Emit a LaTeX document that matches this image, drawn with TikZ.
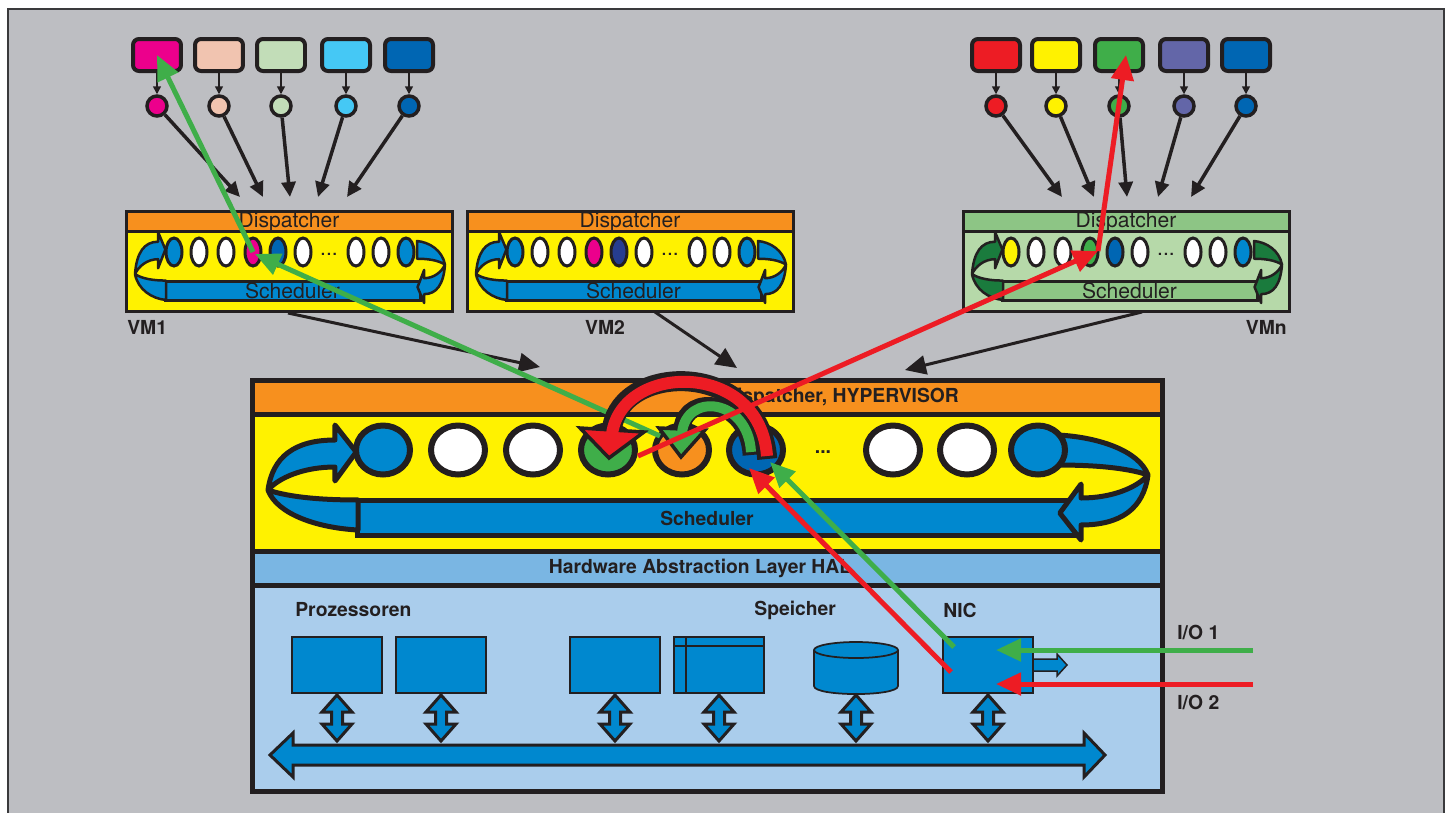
\documentclass[tikz,border=0pt]{standalone}
\usepackage{fontspec}
\setmainfont{TeX Gyre Heros}
\usetikzlibrary{arrows.meta, positioning, shapes.geometric}

\definecolor{framegray}{HTML}{BDBEC2}
\definecolor{framedark}{HTML}{3A3A3C}
\definecolor{inkdark}{HTML}{231F20}
\definecolor{dispor}{HTML}{F7901E}
\definecolor{vmyellow}{HTML}{FFF200}
\definecolor{ebl}{HTML}{0088CF}
\definecolor{dbl}{HTML}{0066B3}
\definecolor{vmnavy}{HTML}{263D8F}
\definecolor{halblue}{HTML}{7AB6E3}
\definecolor{hwblue}{HTML}{AACDEC}
\definecolor{agreen}{HTML}{3FAE49}
\definecolor{ared}{HTML}{ED1C24}
\definecolor{magen}{HTML}{EC008C}
\definecolor{peach}{HTML}{F1C4B0}
\definecolor{sage}{HTML}{C2DDB8}
\definecolor{sky}{HTML}{45C8F5}
\definecolor{lilac}{HTML}{6366A8}
\definecolor{vmgband}{HTML}{8DC585}
\definecolor{vmgbody}{HTML}{B6D9A9}
\definecolor{vmgcurl}{HTML}{1A7B3D}

% ribbon arrow that loops from the scheduler back into the queue (unit box)
\newcommand\curlpath{(0,0.62) .. controls (0.05,0.3) and (0.3,0.143) .. (0.744,0.143)
  -- (0.744,0) -- (0.98,0.257) -- (0.744,0.533) -- (0.744,0.4)
  .. controls (0.4,0.4) and (0.12,0.5) .. (0,0.62)
  .. controls (0.25,0.69) and (0.6,0.714) .. (1,0.714) -- (1,1)
  .. controls (0.55,0.98) and (0.1,0.85) .. (0,0.62) -- cycle}

% #1 name, #2 left x, #3 band, #4 body, #5 curl, #6 bar, #7 colour/x list
\newcommand\vmbox[7]{%
  \begin{scope}[shift={(#2,0)}]
    \draw[vmline, fill=#4] (0,211) rectangle (326,311);
    \draw[vmline, fill=#3] (0,211) rectangle (326,231);
    \draw[vmline, fill=#6] (39,281) rectangle (294,300);
    \begin{scope}[shift={(9,232)}, xscale=31, yscale=68]
      \draw[curlline, fill=#5] \curlpath;
    \end{scope}
    \begin{scope}[shift={(319,303)}, xscale=-28, yscale=-62]
      \draw[curlline, fill=#5] \curlpath;
    \end{scope}
    \foreach \c/\ex [count=\i] in {#7} {\node[vmell, fill=\c] (#1e\i) at (\ex,252) {};}
    \node[vmtext] (#1dots) at (203,254) {...};
    \node[vmtext] (#1disp) at (163,222) {Dispatcher};
    \node[vmtext] (#1sched) at (166.5,291) {Scheduler};
  \end{scope}}

\begin{document}
\begin{tikzpicture}[x=0.02cm, y=-0.02cm,
    lbl/.style={font=\fontsize{11}{13}\selectfont\bfseries, text=inkdark, inner sep=0},
    vmtext/.style={font=\fontsize{12}{14}\selectfont, text=inkdark, inner sep=0},
    app/.style={rectangle, rounded corners=0.12cm, draw=inkdark, line width=0.08cm,
                minimum width=0.96cm, minimum height=0.64cm, inner sep=0},
    tok/.style={circle, draw=inkdark, line width=0.07cm, minimum size=0.4cm, inner sep=0},
    vmell/.style={ellipse, draw=inkdark, line width=0.06cm,
                  minimum width=0.32cm, minimum height=0.56cm, inner sep=0},
    hypell/.style={ellipse, draw=inkdark, line width=0.12cm,
                   minimum width=1.08cm, minimum height=0.98cm, inner sep=0},
    vmline/.style={draw=inkdark, line width=0.06cm},
    curlline/.style={draw=inkdark, line width=0.05cm, line join=round},
    hypline/.style={draw=inkdark, line width=0.1cm},
    hypcurl/.style={draw=inkdark, line width=0.1cm, line join=round},
    hwbox/.style={rectangle, draw=inkdark, line width=0.035cm, fill=ebl, inner sep=0,
                  minimum width=1.8cm, minimum height=1.12cm},
    busline/.style={draw=inkdark, line width=0.06cm, fill=ebl},
    arcedge/.style={draw=inkdark, line width=0.07cm, line join=miter},
    tarr/.style={draw=inkdark, line width=0.03cm, -{Triangle[length=0.16cm, width=0.16cm]}},
    carr/.style={draw=inkdark, line width=0.07cm, -{Triangle[length=0.3cm, width=0.28cm]}},
    barr/.style={draw=inkdark, line width=0.06cm, -{Triangle[length=0.42cm, width=0.38cm]}},
    garr/.style={draw=agreen, line width=0.1cm, -{Triangle[length=0.5cm, width=0.44cm]}},
    rarr/.style={draw=ared, line width=0.1cm, -{Triangle[length=0.5cm, width=0.44cm]}},
  ]
  \useasboundingbox (0,0) rectangle (1453,812);
  \fill[white] (0,0) rectangle (1453,812);
  \draw[draw=framedark, line width=0.04cm, fill=framegray] (8,9) rectangle (1444,830);

  % applications and their threads
  \foreach \c/\x [count=\i] in {magen/157, peach/219, sage/281, sky/346, dbl/409} {
    \node[app, fill=\c] (la\i) at (\x,55) {};
    \node[tok, fill=\c] (lc\i) at (\x,106) {};
    \draw[tarr] (la\i) -- (lc\i);
  }
  \foreach \c/\x [count=\i] in {ared/996, vmyellow/1056, agreen/1119, lilac/1184, dbl/1246} {
    \node[app, fill=\c] (ra\i) at (\x,55) {};
    \node[tok, fill=\c] (rc\i) at (\x,106) {};
    \draw[tarr] (ra\i) -- (rc\i);
  }
  \foreach \t [count=\i] in {240,263,290,318,347} {
    \coordinate (lt\i) at (\t,197);
    \draw[carr] (lc\i) -- (lt\i);
  }
  \foreach \t [count=\i] in {1062,1094,1127,1158,1191} {
    \coordinate (rt\i) at (\t,197);
    \draw[carr] (rc\i) -- (rt\i);
  }

  % virtual machines
  \vmbox{v1}{126}{dispor}{vmyellow}{ebl}{ebl}{ebl/48, white/73, white/100, magen/127, dbl/152, white/177, white/230, white/255, ebl/280}
  \vmbox{v2}{467}{dispor}{vmyellow}{ebl}{ebl}{ebl/48, white/73, white/100, magen/127, vmnavy/152, white/177, white/230, white/255, ebl/280}
  \vmbox{vn}{963}{vmgband}{vmgbody}{vmgcurl}{vmgband}{vmyellow/48, white/73, white/100, agreen/127, dbl/152, white/177, white/230, white/255, ebl/280}
  \node[lbl, anchor=west] (vm1) at (127,327) {VM1};
  \node[lbl] (vm2) at (605,327) {VM2};
  \node[lbl, anchor=east] (vmn) at (1287,327) {VMn};

  \coordinate (v1-out) at (288,313);  \coordinate (hyp-in1) at (540,367);
  \coordinate (v2-out) at (655,312);  \coordinate (hyp-in2) at (737,368);
  \coordinate (vn-out) at (1142,312); \coordinate (hyp-in3) at (905,370);
  \draw[barr] (v1-out) -- (hyp-in1);
  \draw[barr] (v2-out) -- (hyp-in2);
  \draw[barr] (vn-out) -- (hyp-in3);

  % hypervisor
  \fill[dispor] (252,380) rectangle (1162,414);
  \fill[vmyellow] (252,414) rectangle (1162,551);
  \fill[halblue] (252,551) rectangle (1162,585);
  \fill[hwblue] (252,585) rectangle (1162,791);
  \draw[hypline] (252,414) -- (1162,414) (252,551) -- (1162,551) (252,585) -- (1162,585);
  \draw[hypline] (252,380) rectangle (1162,791);
  \node[lbl] (hypdisp) at (841,397) {Dispatcher, HYPERVISOR};
  \draw[hypline, fill=ebl] (357,500) rectangle (1078,535);
  \node[lbl] (hypsched) at (707,518) {Scheduler};
  \begin{scope}[shift={(268,425)}, xscale=90, yscale=105]
    \draw[hypcurl, fill=ebl] \curlpath;
  \end{scope}
  \begin{scope}[shift={(1148,540)}, xscale=-90, yscale=-105]
    \draw[hypcurl, fill=ebl] \curlpath;
  \end{scope}
  \foreach \c/\x [count=\i] in {ebl/383, white/458, white/533, agreen/608, dispor/682, dbl/756, white/893, white/967, ebl/1038}
    \node[hypell, fill=\c] (h\i) at (\x,450) {};
  \node[lbl] (hdots) at (823,452) {...};
  \node[lbl] (hal) at (700,568) {Hardware Abstraction Layer HAL};

  % hardware
  \node[lbl, anchor=west] (cpulbl) at (295,610) {Prozessoren};
  \node[lbl, anchor=west] (memlbl) at (754,610) {Speicher};
  \node[lbl, anchor=west] (niclbl) at (943,610) {NIC};
  \node[hwbox] (cpu1) at (337,665) {};
  \node[hwbox] (cpu2) at (441,665) {};
  \node[hwbox] (mem1) at (615,665) {};
  \node[hwbox] (mem2) at (719,665) {};
  \draw[draw=inkdark, line width=0.035cm] (686,637) -- (686,693) (674,646) -- (764,646);
  \draw[draw=inkdark, line width=0.035cm, fill=ebl] (814,650) -- (814,686)
    .. controls (814,696.7) and (898,696.7) .. (898,686) -- (898,650);
  \draw[draw=inkdark, line width=0.035cm, fill=ebl] (856,650) ellipse [x radius=42, y radius=8];
  \node[hwbox] (nic) at (988,665) {};
  \draw[draw=inkdark, line width=0.03cm, fill=ebl] (1033,659) -- (1057,659) -- (1057,654)
    -- (1067,665) -- (1057,676) -- (1057,671) -- (1033,671) -- cycle;
  \foreach \x in {337,441,615,719,856,988}
    \draw[busline] (\x,695) -- (\x+15,712) -- (\x+5.5,712) -- (\x+5.5,724) -- (\x+15,724)
      -- (\x,741) -- (\x-15,724) -- (\x-5.5,724) -- (\x-5.5,712) -- (\x-15,712) -- cycle;
  \draw[busline] (270,755) -- (293,733) -- (293,745) -- (1084,745) -- (1084,733) -- (1105,755)
    -- (1084,777) -- (1084,765) -- (293,765) -- (293,777) -- cycle;
  \node[lbl, anchor=west] (io1lbl) at (1177,632) {I/O 1};
  \node[lbl, anchor=west] (io2lbl) at (1177,702) {I/O 2};

  % data paths
  \coordinate (h5-out) at (660,436);
  \coordinate (v1-hit) at (255,254);
  \draw[garr] (h5-out) -- (v1-hit);

  % hand-over arcs inside the hypervisor queue
  \coordinate (h6-tail-r) at (767,456); \coordinate (h4-tip) at (609,458);
  \coordinate (h6-tail-g) at (751,452); \coordinate (h5-tip) at (681,457);
  \draw[draw=inkdark, line width=0.4cm, shorten <=-0.06cm]
    (h6-tail-r) .. controls (760,360) and (622,362) .. (612,428);
  \draw[arcedge, fill=ared] (580,428) -- (644,432) -- (h4-tip) -- cycle;
  \draw[draw=ared, line width=0.24cm]
    (h6-tail-r) .. controls (760,360) and (622,362) .. (612,434);
  \draw[draw=inkdark, line width=0.34cm, shorten <=-0.06cm]
    (h6-tail-g) .. controls (748,398) and (686,392) .. (682,428);
  \draw[arcedge, fill=agreen] (659,428) -- (705,430) -- (h5-tip) -- cycle;
  \draw[draw=agreen, line width=0.2cm]
    (h6-tail-g) .. controls (748,398) and (686,392) .. (682,433);

  \coordinate (io1) at (1253,650); \coordinate (nic-g-in) at (996,650);
  \coordinate (io2) at (1253,684); \coordinate (nic-r-in) at (996,684);
  \coordinate (nic-g-out) at (954,647); \coordinate (h6-g) at (770,462);
  \coordinate (nic-r-out) at (951,672); \coordinate (h6-r) at (749,468);
  \coordinate (h4-out) at (638,456); \coordinate (vn-hit) at (1098,251);
  \coordinate (ra3-hit) at (1126,55);
  \draw[garr] (io1) -- (nic-g-in);
  \draw[rarr] (io2) -- (nic-r-in);
  \draw[garr] (nic-g-out) -- (h6-g);
  \draw[rarr] (nic-r-out) -- (h6-r);
  \draw[rarr] (h4-out) -- (vn-hit);
  \draw[rarr] (vn-hit) -- (ra3-hit);
  \draw[garr] (v1e4.center) -- (la1.center);
\end{tikzpicture}
\end{document}
